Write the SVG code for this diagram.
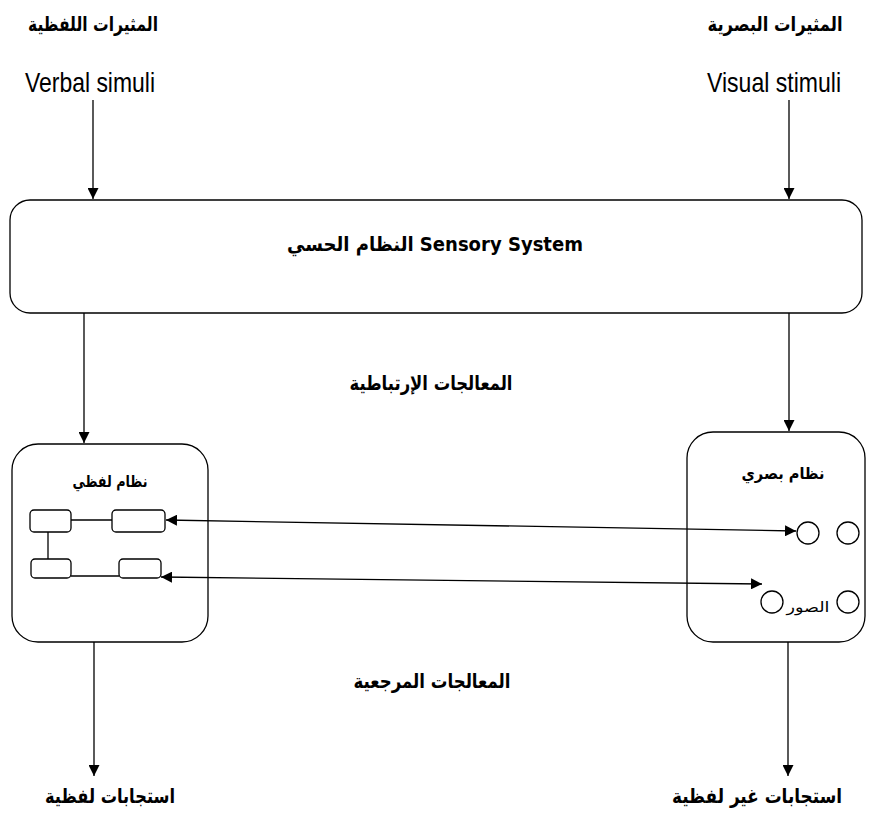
<svg xmlns="http://www.w3.org/2000/svg" width="878" height="816" viewBox="0 0 878 816">
<style>
.ar{font-family:"DejaVu Sans","Liberation Sans",sans-serif;font-weight:bold;fill:#000;text-anchor:middle}
.en{font-family:"Liberation Sans","Arial",sans-serif;fill:#000;text-anchor:middle}
.box{fill:#fff;stroke:#000;stroke-width:1.3}
.ln{stroke:#000;stroke-width:1.3;fill:none}
</style>
<defs>
<marker id="ah" viewBox="0 0 10 10" refX="10" refY="5" markerWidth="11" markerHeight="11" markerUnits="userSpaceOnUse" orient="auto-start-reverse">
<path d="M0,0 L10,5 L0,10 z" fill="#000"/>
</marker>
</defs>
<rect width="878" height="816" fill="#fff"/>

<g id="verbal-stimuli">
<text class="ar" x="93" y="31" font-size="20" textLength="130" lengthAdjust="spacingAndGlyphs">المثيرات اللفظية</text>
<text class="en" x="90" y="92" font-size="28" textLength="130" lengthAdjust="spacingAndGlyphs">Verbal simuli</text>
</g>
<g id="visual-stimuli">
<text class="ar" x="775" y="31" font-size="20" textLength="135" lengthAdjust="spacingAndGlyphs">المثيرات البصرية</text>
<text class="en" x="774" y="92" font-size="28" textLength="134" lengthAdjust="spacingAndGlyphs">Visual stimuli</text>
</g>

<g id="sensory-system">
<rect class="box" x="10" y="200" width="852" height="113" rx="20"/>
<text class="ar" x="435" y="251" font-size="20" textLength="296" lengthAdjust="spacingAndGlyphs">النظام الحسي Sensory System</text>
</g>

<g id="associative-label">
<text class="ar" x="431" y="390" font-size="20" textLength="163" lengthAdjust="spacingAndGlyphs">المعالجات الإرتباطية</text>
</g>
<g id="referential-label">
<text class="ar" x="432" y="688" font-size="20" textLength="157" lengthAdjust="spacingAndGlyphs">المعالجات المرجعية</text>
</g>

<g id="verbal-system">
<rect class="box" x="12" y="444" width="196" height="198" rx="26"/>
<text class="ar" x="110" y="487" font-size="16" textLength="75" lengthAdjust="spacingAndGlyphs">نظام لفظي</text>
<rect class="box" x="30" y="510" width="41" height="22" rx="4"/>
<rect class="box" x="112" y="510" width="53" height="22" rx="4"/>
<rect class="box" x="31" y="559" width="40" height="19" rx="4"/>
<rect class="box" x="119" y="559" width="42" height="19" rx="4"/>
<line class="ln" x1="71" y1="520" x2="112" y2="520"/>
<line class="ln" x1="48" y1="532" x2="48" y2="559"/>
<line class="ln" x1="71" y1="576" x2="119" y2="576"/>
</g>

<g id="visual-system">
<rect class="box" x="687" y="432" width="178" height="210" rx="26"/>
<text class="ar" x="783" y="479" font-size="16" textLength="83" lengthAdjust="spacingAndGlyphs">نظام بصري</text>
<circle class="box" cx="808" cy="533" r="11"/>
<circle class="box" cx="848" cy="533" r="11"/>
<circle class="box" cx="772" cy="602" r="11"/>
<circle class="box" cx="848" cy="602" r="11"/>
<text x="808" y="612" font-size="15" font-family="DejaVu Sans,Liberation Sans,sans-serif" text-anchor="middle" fill="#000" textLength="43" lengthAdjust="spacingAndGlyphs">الصور</text>
</g>

<g id="verbal-response">
<text class="ar" x="110" y="803" font-size="20" textLength="130" lengthAdjust="spacingAndGlyphs">استجابات لفظية</text>
</g>
<g id="nonverbal-response">
<text class="ar" x="757" y="803" font-size="20" textLength="170" lengthAdjust="spacingAndGlyphs">استجابات غير لفظية</text>
</g>

<g id="connectors">
<line class="ln" x1="93" y1="100" x2="93" y2="199" marker-end="url(#ah)"/>
<line class="ln" x1="789" y1="100" x2="789" y2="199" marker-end="url(#ah)"/>
<line class="ln" x1="84" y1="313" x2="84" y2="443" marker-end="url(#ah)"/>
<line class="ln" x1="789" y1="313" x2="789" y2="431" marker-end="url(#ah)"/>
<line class="ln" x1="166" y1="520" x2="796" y2="531" marker-start="url(#ah)" marker-end="url(#ah)"/>
<line class="ln" x1="161" y1="577" x2="762" y2="584" marker-start="url(#ah)" marker-end="url(#ah)"/>
<line class="ln" x1="94" y1="642" x2="94" y2="776" marker-end="url(#ah)"/>
<line class="ln" x1="788" y1="642" x2="788" y2="776" marker-end="url(#ah)"/>
</g>
</svg>
